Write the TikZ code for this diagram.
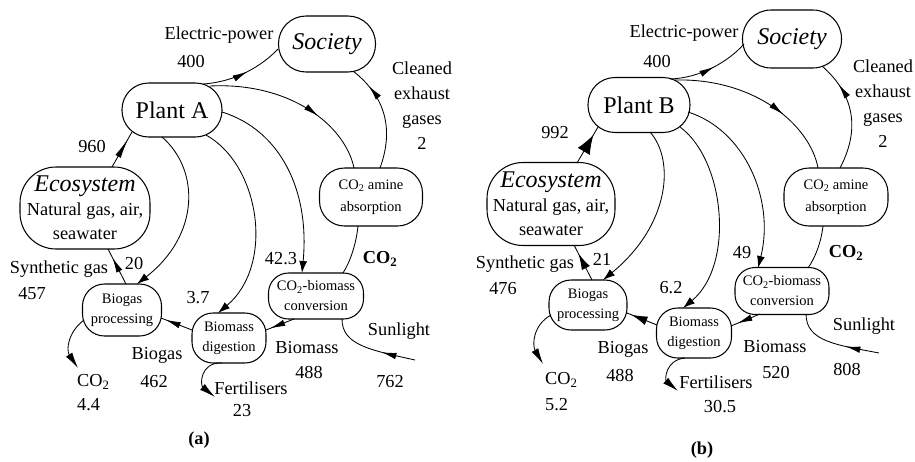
\documentclass[tikz,border=0pt]{standalone}
\usepackage{fontspec}
\setmainfont{Liberation Serif}
\usetikzlibrary{arrows.meta,decorations.markings,calc}
\begin{document}
\begin{tikzpicture}[x=1pt,y=-1pt,
  box/.style={draw, line width=1.05pt, inner sep=0pt, align=center},
  bigf/.style={font=\fontsize{24}{28}\selectfont},
  smf/.style={font=\fontsize{14.5}{20}\selectfont},
  lab/.style={font=\fontsize{18.3}{25}\selectfont, inner sep=0pt, align=center},
  flow/.style={line width=0.85pt},
  tipend/.style={flow, -{Latex[length=12pt,width=8pt]}},
  longtip/.style={flow, -{Latex[length=16pt,width=7.5pt]}},
  mida/.style={flow, postaction={decorate}, decoration={markings, mark=at position #1 with {\arrow{Latex[length=15pt,width=6.5pt]}}}},
  lmida/.style={flow, postaction={decorate}, decoration={markings, mark=at position #1 with {\arrow{Latex[length=20pt,width=6pt]}}}},
  bmida/.style={flow, postaction={decorate}, decoration={markings, mark=at position #1 with {\arrow{Latex[length=19pt,width=14pt]}}}},
  smida/.style={flow, postaction={decorate}, decoration={markings, mark=at position #1 with {\arrow{Latex[length=16pt,width=9pt]}}}},
]
\fill[white] (0,0) rectangle (915,461);
\useasboundingbox (0,0) rectangle (915,461);

% ================= panel (a) =================
\node[box, bigf, rounded corners=26.5pt, minimum width=100pt, minimum height=54pt] (pa) at (172,110) {Plant A};
\node[box, font=\fontsize{24}{28}\selectfont\itshape, rounded corners=27.5pt, minimum width=97pt, minimum height=56pt] (sa) at (327,44) {Society};
\node[box, rounded corners=36pt, minimum width=130pt, minimum height=82pt, font=\fontsize{18.3}{24}\selectfont] (ea) at (85,208) {{\fontsize{24}{27}\selectfont\itshape Ecosystem}\\Natural gas, air,\\seawater};
\node[box, font=\fontsize{14.5}{22}\selectfont, rounded corners=25pt, minimum width=103pt, minimum height=58pt] (ama) at (371,197) {CO\textsubscript{2} amine\\absorption};
\node[box, smf, rounded corners=22pt, minimum width=79pt, minimum height=52pt] (bpa) at (122,310) {Biogas\\processing};
\node[box, smf, rounded corners=21pt, minimum width=74pt, minimum height=50pt] (bda) at (229,338) {Biomass\\digestion};
\node[box, smf, rounded corners=20pt, minimum width=95pt, minimum height=46pt] (cba) at (316,296) {CO\textsubscript{2}-biomass\\conversion};
\coordinate (co2a) at (78,368);
\coordinate (fera) at (215,397);
\coordinate (suna) at (415,360);

\draw[mida=0.55] ($(pa)+(31,-26)$) .. controls (235,82) and (262,66) .. ($(sa)+(-49,5)$);
\draw[mida=0.64] ($(pa)+(38,-24)$) .. controls (290,82) and (345,125) .. ($(ama)+(-17,-29)$);
\draw[mida=0.8] ($(ama)+(9,-29)$) .. controls (392,135) and (390,100) .. ($(sa)+(26,27)$);
\draw[lmida=0.8] ($(ea)+(27,-41)$) -- ($(pa)+(-40,22)$);
\draw[tipend] ($(pa)+(-10,27)$) .. controls (200,170) and (200,235) .. ($(bpa)+(15,-26)$);
\draw[tipend] ($(pa)+(34,25)$) .. controls (260,165) and (275,265) .. ($(bda)+(-11,-25)$);
\draw[tipend] ($(pa)+(50,2)$) .. controls (280,130) and (310,190) .. ($(cba)+(-14,-23)$);
\draw[mida=0.75] ($(bpa)+(4,-26)$) -- ($(ea)+(23,41)$);
\draw[longtip] ($(bpa)+(-38,10)$) .. controls (68,332) and (66,350) .. (co2a);
\draw[mida=0.85] ($(bda)+(-37,-8)$) -- ($(bpa)+(39,8)$);
\draw[longtip] ($(bda)+(-7,25)$) .. controls (200,362) and (200,385) .. (fera);
\draw[mida=0.85] ($(cba)+(-22,23)$) -- ($(bda)+(37,-8)$);
\draw[mida=0.38] (suna) .. controls (370,350) and (342,345) .. ($(cba)+(26,23)$);
\draw[flow] ($(ama)+(-13,29)$) .. controls (356,245) and (350,262) .. ($(cba)+(27,-23)$);

\node[lab] (la1) at (219,35) {Electric-power};
\node[lab] (la2) at (191,62) {400};
\node[lab] (la3) at (422,106) {Cleaned\\exhaust\\gases\\2};
\node[lab] (la4) at (92,146) {960};
\node[lab] (la5) at (134,263) {20};
\node[lab] (la6) at (59,269) {Synthetic gas};
\node[lab] (la7) at (32,294) {457};
\node[lab] (la8) at (198,298) {3.7};
\node[lab] (la9) at (281,259) {42.3};
\node[lab] (la10) at (380,259) {\textbf{CO\textsubscript{2}}};
\node[lab] (la11) at (399,331) {Sunlight};
\node[lab] (la12) at (390,382) {762};
\node[lab] (la13) at (307,348) {Biomass};
\node[lab] (la14) at (309,372) {488};
\node[lab] (la15) at (251,388) {Fertilisers};
\node[lab] (la16) at (242,411) {23};
\node[lab] (la17) at (157,355) {Biogas};
\node[lab] (la18) at (154,382) {462};
\node[lab, anchor=west] (la19) at (77,382) {CO\textsubscript{2}};
\node[lab, anchor=west] (la20) at (77,405) {4.4};
\node[lab] (la21) at (199,440) {\textbf{(a)}};

% ================= panel (b) =================
\node[box, bigf, rounded corners=27pt, minimum width=102pt, minimum height=55pt] (pb) at (639,105) {Plant B};
\node[box, font=\fontsize{24}{28}\selectfont\itshape, rounded corners=28.5pt, minimum width=99pt, minimum height=58pt] (sb) at (792,39) {Society};
\node[box, rounded corners=36pt, minimum width=128pt, minimum height=83pt, font=\fontsize{18.3}{24}\selectfont] (eb) at (551,204) {{\fontsize{24}{27}\selectfont\itshape Ecosystem}\\Natural gas, air,\\seawater};
\node[box, font=\fontsize{14.5}{22}\selectfont, rounded corners=25pt, minimum width=104pt, minimum height=58pt] (amb) at (836,197) {CO\textsubscript{2} amine\\absorption};
\node[box, smf, rounded corners=22pt, minimum width=78pt, minimum height=50pt] (bpb) at (588,305) {Biogas\\processing};
\node[box, smf, rounded corners=21pt, minimum width=75pt, minimum height=50pt] (bdb) at (694,333) {Biomass\\digestion};
\node[box, smf, rounded corners=20pt, minimum width=94pt, minimum height=47pt] (cbb) at (782,291) {CO\textsubscript{2}-biomass\\conversion};
\coordinate (co2b) at (543,364);
\coordinate (ferb) at (678,391);
\coordinate (sunb) at (879,353);

\draw[mida=0.55] ($(pb)+(31,-26)$) .. controls (700,78) and (728,62) .. ($(sb)+(-48,5)$);
\draw[mida=0.64] ($(pb)+(36,-25)$) .. controls (755,78) and (810,125) .. ($(amb)+(-18,-29)$);
\draw[mida=0.78] ($(amb)+(4,-29)$) .. controls (860,130) and (855,95) .. ($(sb)+(30,27)$);
\draw[bmida=0.78] ($(eb)+(26,-41)$) -- ($(pb)+(-41,22)$);
\draw[tipend] ($(pb)+(11,27)$) .. controls (675,160) and (670,225) .. ($(bpb)+(15,-25)$);
\draw[tipend] ($(pb)+(41,22)$) .. controls (725,160) and (735,265) .. ($(bdb)+(-11,-25)$);
\draw[tipend] ($(pb)+(49,7)$) .. controls (745,130) and (775,200) .. ($(cbb)+(-24,-23)$);
\draw[smida=0.75] ($(bpb)+(4,-25)$) -- ($(eb)+(23,41)$);
\draw[longtip] ($(bpb)+(-37,10)$) .. controls (533,325) and (532,345) .. (co2b);
\draw[smida=0.85] ($(bdb)+(-37,-8)$) -- ($(bpb)+(39,8)$);
\draw[longtip] ($(bdb)+(-9,25)$) .. controls (665,360) and (665,380) .. (ferb);
\draw[mida=0.78] ($(cbb)+(-22,23)$) -- ($(bdb)+(37,-7)$);
\draw[mida=0.38] (sunb) .. controls (838,345) and (806,342) .. ($(cbb)+(24,23)$);
\draw[flow] ($(amb)+(-13,29)$) .. controls (821,243) and (815,258) .. ($(cbb)+(26,-23)$);

\node[lab] (lb1) at (684,33) {Electric-power};
\node[lab] (lb2) at (657,62) {400};
\node[lab] (lb3) at (883,104) {Cleaned\\exhaust\\gases\\2};
\node[lab] (lb4) at (555,133) {992};
\node[lab] (lb5) at (602,259) {21};
\node[lab] (lb6) at (525,264) {Synthetic gas};
\node[lab] (lb7) at (503,289) {476};
\node[lab] (lb8) at (671,288) {6.2};
\node[lab] (lb9) at (742,253) {49};
\node[lab] (lb10) at (846,253) {\textbf{CO\textsubscript{2}}};
\node[lab] (lb11) at (864,326) {Sunlight};
\node[lab] (lb12) at (847,369) {808};
\node[lab] (lb13) at (775,347) {Biomass};
\node[lab] (lb14) at (776,372) {520};
\node[lab] (lb15) at (716,382) {Fertilisers};
\node[lab] (lb16) at (720,407) {30.5};
\node[lab] (lb17) at (623,349) {Biogas};
\node[lab] (lb18) at (620,375) {488};
\node[lab, anchor=west] (lb19) at (545,380) {CO\textsubscript{2}};
\node[lab, anchor=west] (lb20) at (545,405) {5.2};
\node[lab] (lb21) at (702,450) {\textbf{(b)}};
\end{tikzpicture}
\end{document}
